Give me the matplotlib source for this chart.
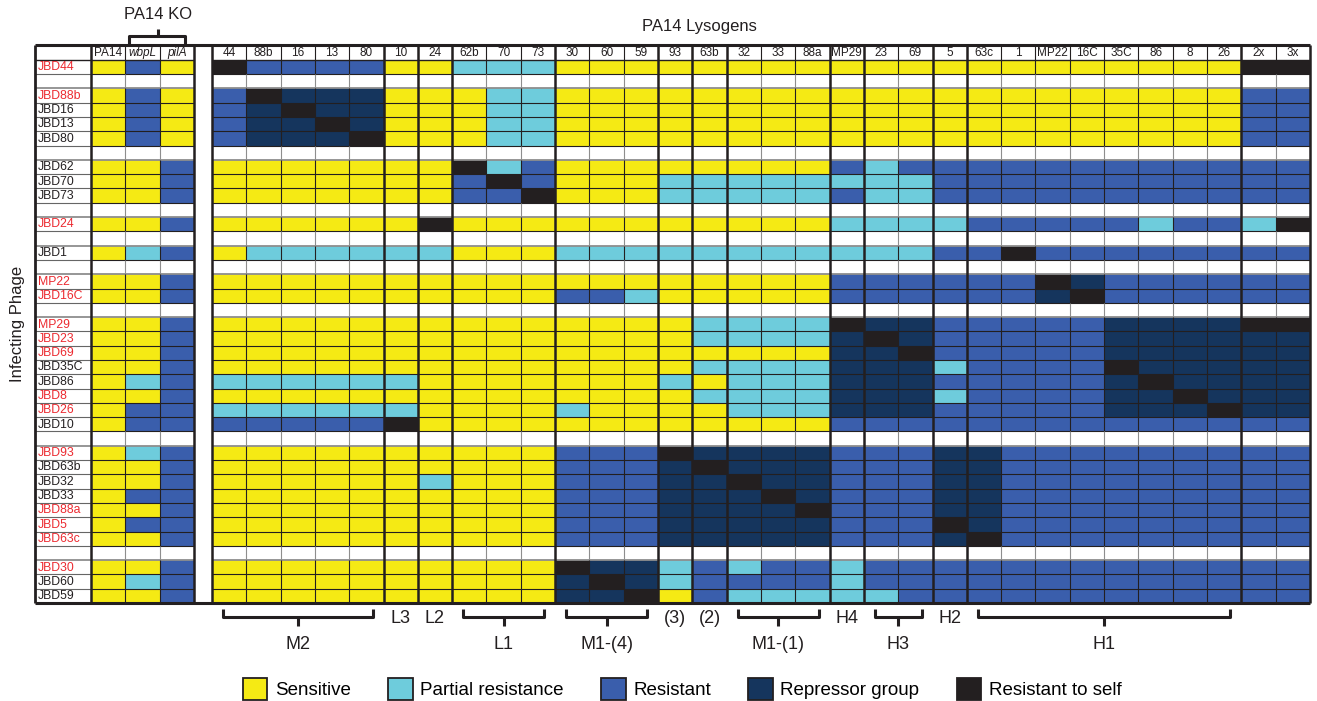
import numpy as np
import matplotlib
matplotlib.use("Agg")
import matplotlib.pyplot as plt
from matplotlib.colors import ListedColormap, BoundaryNorm
from matplotlib.collections import LineCollection
from matplotlib.patches import Patch

plt.rcParams['font.family'] = ['Liberation Sans', 'DejaVu Sans']

# ---- data -------------------------------------------------------------
ko_strains = ["PA14", "wbpL", "pilA"]
lysogens = ["44", "88b", "16", "13", "80", "10", "24", "62b", "70", "73",
            "30", "60", "59", "93", "63b", "32", "33", "88a", "MP29", "23",
            "69", "5", "63c", "1", "MP22", "16C", "35C", "86", "8", "26",
            "2x", "3x"]
# sizes of the lysogen groups separated by heavy rules
lysogen_groups = [5, 1, 1, 3, 3, 1, 1, 3, 1, 2, 1, 8, 2]

# infecting phages top to bottom (None = spacer row)
phages = ["JBD44", None, "JBD88b", "JBD16", "JBD13", "JBD80", None,
          "JBD62", "JBD70", "JBD73", None, "JBD24", None, "JBD1", None,
          "MP22", "JBD16C", None, "MP29", "JBD23", "JBD69", "JBD35C",
          "JBD86", "JBD8", "JBD26", "JBD10", None, "JBD93", "JBD63b",
          "JBD32", "JBD33", "JBD88a", "JBD5", "JBD63c", None,
          "JBD30", "JBD60", "JBD59"]
highlighted = {"JBD44", "JBD88b", "JBD24", "MP22", "JBD16C", "MP29", "JBD23",
               "JBD69", "JBD8", "JBD26", "JBD93", "JBD88a", "JBD5", "JBD63c",
               "JBD30"}

# S sensitive, P partial, R resistant, G repressor group, X resistant to self
# order: PA14 wbpL pilA | lysogens grouped as above
phenotypes = {
    "JBD44":  "SRS XRRRR S S PPP SSS S S SSS S SS S SSSSSSSS XX",
    "JBD88b": "SRS RXGGG S S SPP SSS S S SSS S SS S SSSSSSSS RR",
    "JBD16":  "SRS RGXGG S S SPP SSS S S SSS S SS S SSSSSSSS RR",
    "JBD13":  "SRS RGGXG S S SPP SSS S S SSS S SS S SSSSSSSS RR",
    "JBD80":  "SRS RGGGX S S SPP SSS S S SSS S SS S SSSSSSSS RR",
    "JBD62":  "SSR SSSSS S S XPR SSS S S SSS R PR R RRRRRRRR RR",
    "JBD70":  "SSR SSSSS S S RXR SSS P P PPP P PP R RRRRRRRR RR",
    "JBD73":  "SSR SSSSS S S RRX SSS P P PPP R PP R RRRRRRRR RR",
    "JBD24":  "SSR SSSSS S X SSS SSS S S SSS P PP P RRRRRPRR PX",
    "JBD1":   "SPR SPPPP P P SSS PPP P P PPP P PP R RXRRRRRR RR",
    "MP22":   "SSR SSSSS S S SSS SSS S S SSS R RR R RRXGRRRR RR",
    "JBD16C": "SSR SSSSS S S SSS RRP S S SSS R RR R RRGXRRRR RR",
    "MP29":   "SSR SSSSS S S SSS SSS S P PPP X GG R RRRRGGGG XX",
    "JBD23":  "SSR SSSSS S S SSS SSS S P PPP G XG R RRRRGGGG GG",
    "JBD69":  "SSR SSSSS S S SSS SSS S S SSS G GX R RRRRGGGG GG",
    "JBD35C": "SSR SSSSS S S SSS SSS S P PPP G GG P RRRRXGGG GG",
    "JBD86":  "SPR PPPPP P S SSS SSS P S PPP G GG R RRRRGXGG GG",
    "JBD8":   "SSR SSSSS S S SSS SSS S P PPP G GG P RRRRGGXG GG",
    "JBD26":  "SRR PPPPP P S SSS PSS S S PPP G GG R RRRRGGGX GG",
    "JBD10":  "SRR RRRRR X S SSS SSS S S SSS R RR R RRRRRRRR RR",
    "JBD93":  "SPR SSSSS S S SSS RRR X G GGG R RR G GRRRRRRR RR",
    "JBD63b": "SSR SSSSS S S SSS RRR G X GGG R RR G GRRRRRRR RR",
    "JBD32":  "SSR SSSSS S P SSS RRR G G XGG R RR G GRRRRRRR RR",
    "JBD33":  "SRR SSSSS S S SSS RRR G G GXG R RR G GRRRRRRR RR",
    "JBD88a": "SSR SSSSS S S SSS RRR G G GGX R RR G GRRRRRRR RR",
    "JBD5":   "SRR SSSSS S S SSS RRR G G GGG R RR X GRRRRRRR RR",
    "JBD63c": "SSR SSSSS S S SSS RRR G G GGG R RR G XRRRRRRR RR",
    "JBD30":  "SSR SSSSS S S SSS XGG P R PRR P RR R RRRRRRRR RR",
    "JBD60":  "SPR SSSSS S S SSS GXG P R RRR P RR R RRRRRRRR RR",
    "JBD59":  "SSR SSSSS S S SSS GGX S R PPP P PR R RRRRRRRR RR",
}

# bottom annotations: (label, first lysogen column, end column, bracketed)
lysogen_classes = [("M2", 0, 5, True), ("L3", 5, 6, False), ("L2", 6, 7, False),
                   ("L1", 7, 10, True), ("M1-(4)", 10, 13, True),
                   ("(3)", 13, 14, False), ("(2)", 14, 15, False),
                   ("M1-(1)", 15, 18, True), ("H4", 18, 19, False),
                   ("H3", 19, 21, True), ("H2", 21, 22, False),
                   ("H1", 22, 30, True)]

phenotype_codes = ["S", "P", "R", "G", "X"]
phenotype_names = ["Sensitive", "Partial resistance", "Resistant",
                   "Repressor group", "Resistant to self"]
phenotype_colors = ["#F5EA14", "#6ECCDC", "#3A5EAC", "#15355D", "#231F20"]

# ---- build matrix -------------------------------------------------------
n_rows = len(phages)
n_ko = len(ko_strains)
n_lys = len(lysogens)
mat = np.full((n_rows, n_ko + n_lys), np.nan)
for r, name in enumerate(phages):
    if name is None:
        continue
    codes = phenotypes[name].replace(" ", "")
    mat[r] = [phenotype_codes.index(c) for c in codes]

cmap = ListedColormap(phenotype_colors)
norm = BoundaryNorm(np.arange(-0.5, len(phenotype_codes)), cmap.N)

# ---- layout (in column / row units) ------------------------------------
W_PX, H_PX = 1317, 701
col_px = 34.31
gap = 18 / col_px                    # blank gap between KO block and lysogens
ko_left = -n_ko - gap
label_left = ko_left - 56 / col_px
grid_top_px, grid_bot_px = 45.5, 603
grid_left_px, grid_right_px = 35, 1310

fig = plt.figure(figsize=(W_PX / 100, H_PX / 100), dpi=100)
ax = fig.add_axes([grid_left_px / W_PX, 1 - grid_bot_px / H_PX,
                   (grid_right_px - grid_left_px) / W_PX,
                   (grid_bot_px - grid_top_px) / H_PX])
ax.set_xlim(label_left, n_lys)
ax.set_ylim(n_rows, -1)
ax.axis("off")

ko_edges = ko_left + np.arange(n_ko + 1)
lys_edges = np.arange(n_lys + 1)
row_edges = np.arange(n_rows + 1)
ax.pcolormesh(ko_edges, row_edges, np.ma.masked_invalid(mat[:, :n_ko]),
              cmap=cmap, norm=norm, zorder=1)
ax.pcolormesh(lys_edges, row_edges, np.ma.masked_invalid(mat[:, n_ko:]),
              cmap=cmap, norm=norm, zorder=1)

DARK = "#231F20"
GREY = "#8E8E8E"
blank = [p is None for p in phages]

# horizontal rules
segs, cols, lws = [], [], []
sections = [(label_left, ko_left), (ko_left, ko_left + n_ko), (0, n_lys)]
for b in range(0, n_rows):
    below_grey = b > 0 and blank[b - 1] and not blank[b]
    for x0, x1 in sections:
        segs.append([(x0, b), (x1, b)])
        if b == 0:
            cols.append(DARK); lws.append(1.0)
        elif below_grey:
            cols.append(GREY); lws.append(1.3)
        elif x0 == label_left:
            cols.append("#666666"); lws.append(0.8)
        else:
            cols.append(DARK); lws.append(0.8)
ax.add_collection(LineCollection(segs, colors=cols, linewidths=lws, zorder=3))

# thin vertical rules (grey inside spacer rows)
thick_lys = np.cumsum([0] + lysogen_groups)
thin_x = [ko_left + 1, ko_left + 2] + [x for x in range(1, n_lys) if x not in thick_lys]
segs, cols = [], []
for x in thin_x:
    for r in range(-1, n_rows):
        segs.append([(x, r), (x, r + 1)])
        cols.append(GREY if (r >= 0 and blank[r]) else DARK)
ax.add_collection(LineCollection(segs, colors=cols, linewidths=0.8, zorder=3))

# heavy vertical rules
heavy_x = [ko_left, ko_left + n_ko] + list(thick_lys)
ax.vlines(heavy_x, -1, n_rows, colors=DARK, linewidth=1.8, zorder=4, clip_on=False)
ax.vlines([label_left], -1, n_rows, colors=DARK, linewidth=2.0, zorder=4, clip_on=False)
ax.hlines([-1, n_rows], label_left, n_lys, colors=DARK, linewidth=2.2, zorder=5,
          clip_on=False)

# column headers
for i, s in enumerate(ko_strains):
    ax.text(ko_left + i + 0.5, -0.47, s, ha="center", va="center", fontsize=8.5,
            style="normal" if i == 0 else "italic", color=DARK)
for i, s in enumerate(lysogens):
    ax.text(i + 0.5, -0.47, s, ha="center", va="center", fontsize=8.5, color=DARK)

# row labels
for r, name in enumerate(phages):
    if name is None:
        continue
    ax.text(label_left + 0.08, r + 0.52, name, ha="left", va="center",
            fontsize=8.8, color="#EC2A30" if name in highlighted else DARK)

ax.text(label_left - 0.52, 18.5, "Infecting Phage", rotation=90, ha="center",
        va="center", fontsize=12, color=DARK, clip_on=False)

# top annotations
ax.text(14.2, -2.36, "PA14 Lysogens", ha="center", va="center", fontsize=12,
        color=DARK, clip_on=False)
kc = ko_left + 2
ax.plot([kc - 0.9, kc - 0.9, kc + 0.75, kc + 0.75], [-1.0, -1.66, -1.66, -1.0],
        color=DARK, lw=2.2, solid_joinstyle="round", solid_capstyle="butt",
        clip_on=False, zorder=5)
ax.plot([kc - 0.05, kc - 0.05], [-1.66, -2.15], color=DARK, lw=2.2,
        solid_capstyle="butt", clip_on=False, zorder=5)
ax.text(kc - 0.05, -3.2, "PA14 KO", ha="center", va="center", fontsize=12,
        color=DARK, clip_on=False)

# bottom class annotations
inset = 0.32
for label, c0, c1, bracketed in lysogen_classes:
    xc = (c0 + c1) / 2
    if bracketed:
        x0, x1 = c0 + inset, c1 - inset
        ax.plot([x0, x0, x1, x1], [38.42, 38.98, 38.98, 38.42], color=DARK,
                lw=2.2, solid_joinstyle="round", solid_capstyle="butt",
                clip_on=False)
        ax.plot([xc, xc], [38.98, 39.6], color=DARK, lw=2.2,
                solid_capstyle="butt", clip_on=False)
        ax.text(xc, 40.9, label, ha="center", va="center", fontsize=13,
                color=DARK, clip_on=False)
    else:
        ax.text(xc, 39.05, label, ha="center", va="center", fontsize=13,
                color=DARK, clip_on=False)

# legend
handles = [Patch(facecolor=c, edgecolor=DARK, linewidth=1.3, label=n)
           for c, n in zip(phenotype_colors, phenotype_names)]
fig.legend(handles=handles, loc="center", bbox_to_anchor=(0.518, 0.017),
           ncol=5, frameon=False, fontsize=13.5, handlelength=1.3,
           handleheight=1.45, handletextpad=0.4, columnspacing=2.0,
           borderpad=0, borderaxespad=0)

fig.savefig("out.png", dpi=100)
